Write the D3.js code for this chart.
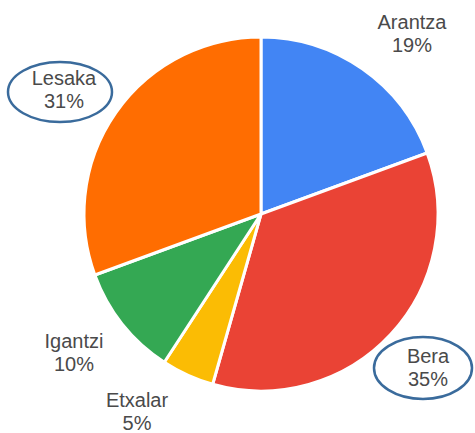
<!DOCTYPE html>
<html><head><meta charset="utf-8">
<script src="https://cdn.jsdelivr.net/npm/d3@7"></script>
<style>html,body{margin:0;padding:0;background:#fff;}svg{display:block;}</style>
</head><body>
<svg id="c" width="475" height="433"></svg>
<script>
const categories = ["Arantza", "Bera", "Etxalar", "Igantzi", "Lesaka"];
const values = [19.4, 35.0, 4.8, 10.2, 30.6];
const colors = ["#4285f4", "#ea4335", "#fbbc04", "#34a853", "#ff6d01"];
const percentLabels = ["19%", "35%", "5%", "10%", "31%"];
const circled = ["Lesaka", "Bera"];

const svg = d3.select("#c");
const cx = 261, cy = 214, r = 177;
const pie = d3.pie().sort(null).value(d => d)(values);
const arc = d3.arc().innerRadius(0).outerRadius(r);
const g = svg.append("g").attr("transform", `translate(${cx},${cy})`);
g.selectAll("path").data(pie).enter().append("path")
  .attr("d", arc)
  .attr("fill", (d, i) => colors[i])
  .attr("stroke", "#fff")
  .attr("stroke-width", 3)
  .attr("stroke-linejoin", "round");

const labelPos = {
  "Arantza": [412, 29],
  "Bera": [428, 363],
  "Etxalar": [137, 407],
  "Igantzi": [74, 348],
  "Lesaka": [64, 85]
};
const ellipses = {
  "Lesaka": [60, 92, 52, 30],
  "Bera": [423, 368, 49, 31]
};
categories.forEach((c, i) => {
  const [x, y] = labelPos[c];
  const t = svg.append("text")
    .attr("x", x).attr("y", y)
    .attr("text-anchor", "middle")
    .attr("font-family", "Arial, 'Liberation Sans', sans-serif")
    .attr("font-size", 20)
    .attr("fill", "#4a4a4a");
  t.append("tspan").attr("x", x).text(c);
  t.append("tspan").attr("x", x).attr("dy", 23).text(percentLabels[i]);
  if (circled.includes(c)) {
    const [ex, ey, rx, ry] = ellipses[c];
    svg.append("ellipse").attr("cx", ex).attr("cy", ey).attr("rx", rx).attr("ry", ry)
      .attr("fill", "none").attr("stroke", "#3a6b9c").attr("stroke-width", 2.5);
  }
});
</script>
</body></html>
